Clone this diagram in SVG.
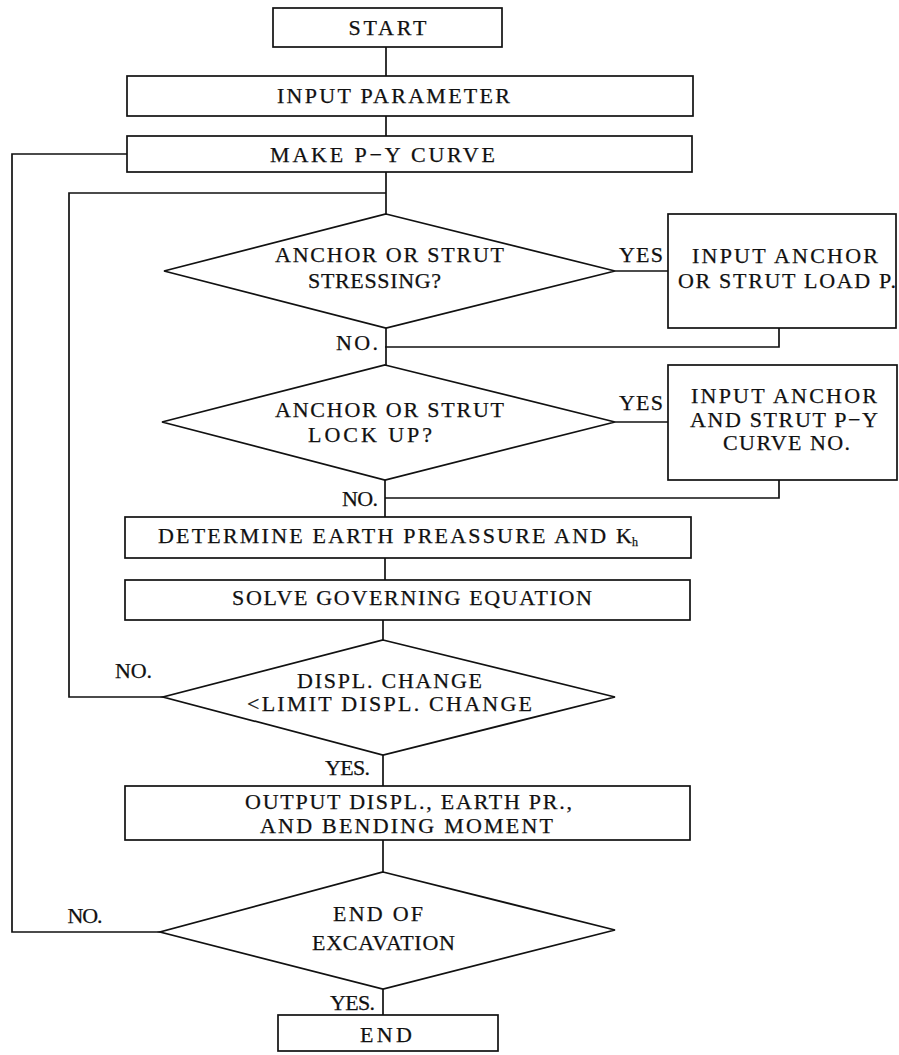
<svg xmlns="http://www.w3.org/2000/svg" width="899" height="1055" viewBox="0 0 899 1055">
<style>
.s{fill:none;stroke:#111;stroke-width:1.7;stroke-linejoin:miter}
.b{fill:#fff;stroke:#111;stroke-width:1.7}
text{font-family:"Liberation Serif","Times New Roman",serif;font-size:22px;fill:#111;stroke:#111;stroke-width:0.25;text-anchor:middle}
.sub{font-size:12px;text-anchor:start}
</style>
<rect width="899" height="1055" fill="#fff"/>
<g id="connectors">
<path class="s" d="M386,47V76"/>
<path class="s" d="M386,116V136"/>
<path class="s" d="M386,172V214"/>
<path class="s" d="M127,154H12V932H160"/>
<path class="s" d="M386,193H69V697H163"/>
<path class="s" d="M615,271H668"/>
<path class="s" d="M779,328V347H385"/>
<path class="s" d="M386,328V365"/>
<path class="s" d="M615,422H668"/>
<path class="s" d="M779,480V498H385"/>
<path class="s" d="M385,480V517"/>
<path class="s" d="M385,558V580"/>
<path class="s" d="M383,620V640"/>
<path class="s" d="M383,755V786"/>
<path class="s" d="M383,840V872"/>
<path class="s" d="M383,989V1015"/>
<text x="357" y="350" textLength="42">NO.</text>
<text x="360" y="506" textLength="36">NO.</text>
<text x="641" y="262" textLength="44">YES</text>
<text x="641" y="410" textLength="44">YES</text>
<text x="133.5" y="678" textLength="37">NO.</text>
<text x="347.5" y="775" textLength="45">YES.</text>
<text x="85" y="923" textLength="35">NO.</text>
<text x="352.5" y="1010" textLength="45">YES.</text>
</g>
<g id="start">
<rect class="b" x="273" y="8" width="229" height="39"/>
<text x="387.5" y="35" textLength="78">START</text>
</g>
<g id="input-parameter">
<rect class="b" x="127" y="76" width="566" height="40"/>
<text x="393.5" y="103" textLength="233">INPUT PARAMETER</text>
</g>
<g id="make-py">
<rect class="b" x="127" y="136" width="565" height="36"/>
<text x="382.5" y="162" textLength="225">MAKE P−Y CURVE</text>
</g>
<g id="d-stressing">
<polygon class="b" points="386,214 615,271 386,328 164,271"/>
<text x="389.5" y="262" textLength="229">ANCHOR OR STRUT</text>
<text x="374.5" y="288" textLength="133">STRESSING?</text>
</g>
<g id="input-load">
<rect class="b" x="668" y="214" width="228" height="114"/>
<text x="785" y="263" textLength="186">INPUT ANCHOR</text>
<text x="787" y="288" textLength="218">OR STRUT LOAD P.</text>
</g>
<g id="d-lockup">
<polygon class="b" points="385,365 615,422 385,480 162,422"/>
<text x="389.5" y="417" textLength="229">ANCHOR OR STRUT</text>
<text x="370" y="442" textLength="124">LOCK UP?</text>
</g>
<g id="input-py">
<rect class="b" x="668" y="365" width="229" height="115"/>
<text x="784" y="403" textLength="186">INPUT ANCHOR</text>
<text x="784" y="427" textLength="188">AND STRUT P−Y</text>
<text x="786.5" y="450" textLength="127">CURVE NO.</text>
</g>
<g id="determine">
<rect class="b" x="125" y="517" width="566" height="41"/>
<text x="395" y="543" textLength="474">DETERMINE EARTH PREASSURE AND K</text>
<text x="632" y="546" class="sub">h</text>
</g>
<g id="solve">
<rect class="b" x="125" y="580" width="565" height="40"/>
<text x="412" y="605" textLength="360">SOLVE GOVERNING EQUATION</text>
</g>
<g id="d-displ">
<polygon class="b" points="383,640 615,697 383,755 163,697"/>
<text x="389.5" y="688" textLength="185">DISPL. CHANGE</text>
<text x="389.5" y="711" textLength="285">&lt;LIMIT DISPL. CHANGE</text>
</g>
<g id="output">
<rect class="b" x="125" y="786" width="565" height="54"/>
<text x="408.5" y="809" textLength="327">OUTPUT DISPL., EARTH PR.,</text>
<text x="406.5" y="833" textLength="293">AND BENDING MOMENT</text>
</g>
<g id="d-end">
<polygon class="b" points="383,872 615,930 383,989 160,932"/>
<text x="378" y="921" textLength="90">END OF</text>
<text x="383.5" y="950" textLength="143">EXCAVATION</text>
</g>
<g id="end">
<rect class="b" x="278" y="1015" width="220" height="36"/>
<text x="386" y="1042" textLength="52">END</text>
</g>
</svg>
